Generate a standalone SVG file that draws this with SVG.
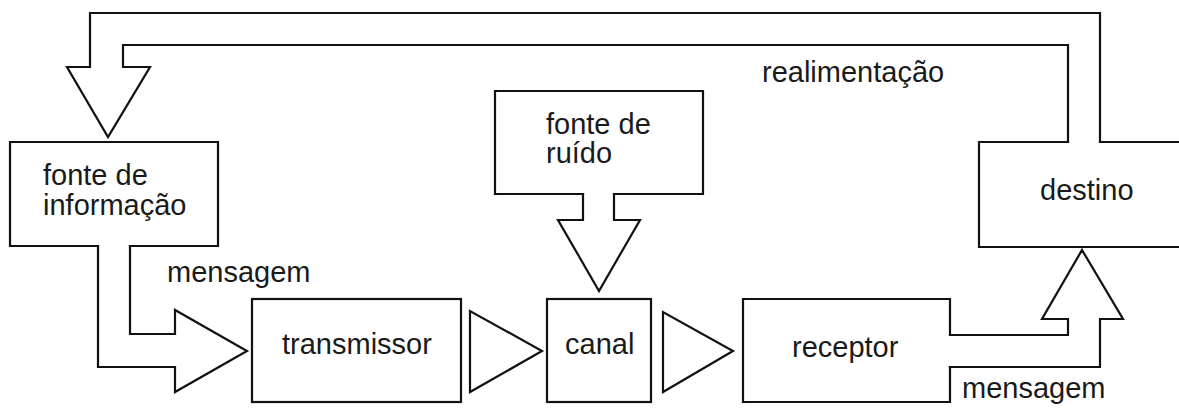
<svg xmlns="http://www.w3.org/2000/svg" width="1179" height="408" viewBox="0 0 1179 408">
<style>
.ln{fill:none;stroke:#111;stroke-width:2.2;stroke-linejoin:miter;stroke-linecap:square}
.tx{font-family:"Liberation Sans",Arial,Helvetica,sans-serif;font-size:29px;fill:#1a1a1a}
</style>
<rect width="1179" height="408" fill="#fff"/>
<g id="fonte-informacao">
<path class="ln" d="M98 246 L10 246 L10 142 L218 142 L218 246 L130 246"/>
<text class="tx" x="43" y="185">fonte de<tspan x="43" y="215">informação</tspan></text>
</g>
<g id="transmissor">
<rect class="ln" x="252" y="299" width="209" height="103"/>
<text class="tx" x="282" y="354">transmissor</text>
</g>
<g id="canal">
<rect class="ln" x="547" y="299" width="104" height="103"/>
<text class="tx" x="565" y="354">canal</text>
</g>
<g id="fonte-ruido">
<path class="ln" d="M583 194 L495 194 L495 91 L703 91 L703 194 L614 194"/>
<text class="tx" x="546" y="134">fonte de<tspan x="546" y="163">ruído</tspan></text>
</g>
<g id="receptor">
<path class="ln" d="M950 335 L950 299 L743 299 L743 402 L950 402 L950 367"/>
<text class="tx" x="792" y="357">receptor</text>
</g>
<g id="destino">
<path class="ln" d="M1068 142 L979 142 L979 247 L1182 247 M1100 142 L1182 142"/>
<text class="tx" x="1040" y="200">destino</text>
</g>
<g id="connectors">
<path class="ln" d="M98 246 L98 367 L175 367 L175 392 L247 351 L175 310 L175 334 L130 334 L130 246"/>
<text class="tx" x="167" y="282">mensagem</text>
<path class="ln" d="M470 311 L470 392 L542 351 Z"/>
<path class="ln" d="M663 312 L663 392 L733 351 Z"/>
<path class="ln" d="M583 194 L583 220 L558 220 L599 291 L640 220 L614 220 L614 194"/>
<path class="ln" d="M950 335 L1068 335 L1068 319 L1042 319 L1082 250 L1123 319 L1100 319 L1100 367 L950 367"/>
<text class="tx" x="962" y="398">mensagem</text>
<path class="ln" d="M1068 142 L1068 45 L123 45 L123 67 L150 67 L108 137 L67 67 L90 67 L90 13 L1100 13 L1100 142"/>
<text class="tx" x="762" y="82">realimentação</text>
</g>
</svg>
